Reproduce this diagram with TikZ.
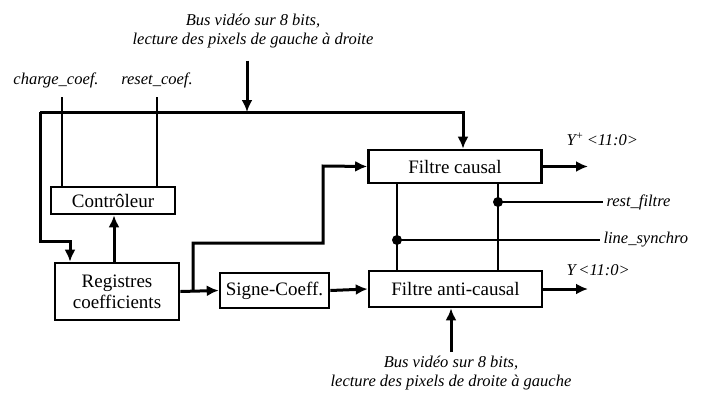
\documentclass[tikz,border=0pt]{standalone}
\usepackage{fontspec}
\setmainfont{Liberation Serif}
\usetikzlibrary{arrows.meta,positioning,calc}

\begin{document}
\begin{tikzpicture}[
  x=1pt, y=-1pt,
  font=\fontsize{19}{21}\selectfont,
  >={Latex[length=12pt,width=11pt]},
  blk/.style={draw, line width=2.6pt, inner sep=0pt, align=center},
  wire/.style={line width=3pt},
  thin wire/.style={line width=2pt},
  lbl/.style={font=\fontsize{16.5}{19}\selectfont\itshape, align=center},
  jdot/.style={circle, fill=black, inner sep=0pt, minimum size=10pt}
]
\useasboundingbox (0,0) rectangle (702,392);

% Blocks
\node[blk, minimum width=124pt, minimum height=27pt] (ctrl) at (113,200.5) {Contrôleur};
\node[blk, minimum width=124pt, minimum height=57pt] (regs) at (117,291.5)
  {Registres\\coefficients};
\node[blk, minimum width=109pt, minimum height=35pt] (signe) at (274.5,290.5) {Signe-Coeff.};
\node[blk, minimum width=173pt, minimum height=33pt] (causal) at (455,166.5) {Filtre causal};
\node[blk, minimum width=173pt, minimum height=36pt] (anti) at (455.5,289) {Filtre anti-causal};

% Top: video bus, left to right
\node[lbl] (bustop) at (253,31) {Bus vidéo sur 8 bits,\\lecture des pixels de gauche à droite};
\coordinate (busin) at (247,112);
\coordinate (busl) at (40,112);
\coordinate (busr) at (463,112);
\coordinate (busdn) at (40,241);
\coordinate (busrg) at (70,241);
\draw[wire,->] (busin |- bustop.south) ++(0,9) -- (busin);
\draw[wire,->] (busl) -- (busr) -- (busr |- causal.north);
\draw[wire,->] (busl) -- (busdn) -- (busrg) -- (busrg |- regs.north);

% Control inputs
\node[lbl] (chglbl) at (56,80) {charge\_coef.};
\node[lbl] (rstlbl) at (157,80) {reset\_coef.};
\coordinate (chg) at (62,97);
\coordinate (rst) at (157,97);
\draw[thin wire] (chg) -- (chg |- ctrl.north);
\draw[thin wire] (rst) -- (rst |- ctrl.north);

% Coefficient path
\coordinate (up) at (114,0);
\draw[wire,->] (up |- regs.north) -- (up |- ctrl.south);
\coordinate (br) at (193,291);
\draw[wire,->] (regs.east) -- (signe.west);
\draw[wire,->] (br) -- (193,243) -- (323,243) -- (323,166) -- (causal.west);
\draw[wire,->] (signe.east) -- (anti.west);

% Outputs
\coordinate (outc) at (588,0);
\draw[wire,->] (causal.east) -- (outc |- causal.east);
\draw[wire,->] (anti.east) -- (outc |- anti.east);
\node[lbl, anchor=west] (ypl) at (563,139) {Y\textsuperscript{+}\,<11:0>};
\node[lbl, anchor=west] (ymi) at (563,270) {Y\,<11:0>};

% Shared control lines
\coordinate (va) at (397,0);
\coordinate (vb) at (498,0);
\draw[thin wire] (va |- causal.south) -- (va |- anti.north);
\draw[thin wire] (vb |- causal.south) -- (vb |- anti.north);
\node[jdot] (jrst) at (498,202) {};
\node[jdot] (jsyn) at (397,240) {};
\node[lbl, anchor=west] (rstf) at (603,202) {rest\_filtre};
\node[lbl, anchor=west] (syn) at (600,240) {line\_synchro};
\draw[thin wire] (jrst.center) -- (rstf.west);
\draw[thin wire] (jsyn.center) -- (syn.west);

% Bottom: video bus, right to left
\node[lbl] (busbot) at (451,373) {Bus vidéo sur 8 bits,\\lecture des pixels de droite à gauche};
\coordinate (bin) at (451,352);
\draw[wire,->] (bin) -- (bin |- anti.south);
\end{tikzpicture}
\end{document}
